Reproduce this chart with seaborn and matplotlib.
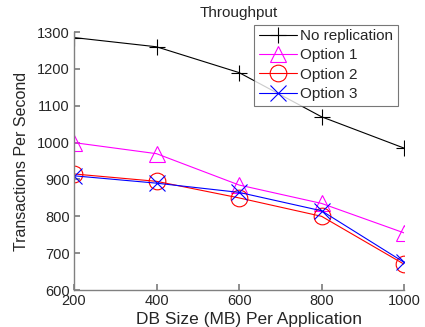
import pandas as pd
import matplotlib
matplotlib.use("Agg")
import matplotlib.pyplot as plt
import seaborn as sns

# dados
db_size = [200, 400, 600, 800, 1000]
no_replication = [1285, 1260, 1190, 1070, 985]
option_1 = [1000, 970, 885, 835, 755]
option_2 = [915, 895, 850, 800, 670]
option_3 = [910, 890, 865, 815, 675]

series = {
    "No replication": no_replication,
    "Option 1": option_1,
    "Option 2": option_2,
    "Option 3": option_3,
}
estilos = {
    "No replication": ("black", "+"),
    "Option 1": ("magenta", "^"),
    "Option 2": ("red", "o"),
    "Option 3": ("blue", "x"),
}

sns.set_theme(style="ticks")
plt.rcParams["font.family"] = ["Liberation Sans", "DejaVu Sans"]

fig = plt.figure(figsize=(4.25, 3.27), dpi=100)
ax = fig.add_axes([0.174, 0.113, 0.777, 0.789])

for nome, valores in series.items():
    cor, marc = estilos[nome]
    df = pd.DataFrame({"db": db_size, "tps": valores})
    sns.lineplot(data=df, x="db", y="tps", ax=ax, color=cor, marker=marc,
                 markersize=12, markerfacecolor="none", markeredgecolor=cor,
                 markeredgewidth=0.8, linewidth=0.8, label=nome)

ax.set_xlim(200, 1000)
ax.set_ylim(600, 1300)
ax.set_xticks(db_size)
ax.set_yticks(range(600, 1301, 100))
ax.tick_params(direction="in", labelsize=10.5, length=4, color="#808080", pad=3)
ax.set_xlabel("DB Size (MB) Per Application", fontsize=12.5, labelpad=1)
ax.xaxis.set_label_coords(0.53, -0.085)
ax.set_ylabel("Transactions Per Second", fontsize=11.5, labelpad=6)
ax.set_title("Throughput", fontsize=11, pad=11)
sns.despine(ax=ax)
for s in ["left", "bottom"]:
    ax.spines[s].set_color("#808080")
    ax.spines[s].set_linewidth(1.0)

leg = ax.legend(loc="upper right", bbox_to_anchor=(0.985, 1.035), fontsize=11,
                frameon=True, fancybox=False, edgecolor="#555555",
                borderpad=0.3, labelspacing=0.35, handlelength=2.5,
                handletextpad=0.2, borderaxespad=0.1)
leg.get_frame().set_linewidth(0.8)

fig.savefig("out.png", dpi=100)
